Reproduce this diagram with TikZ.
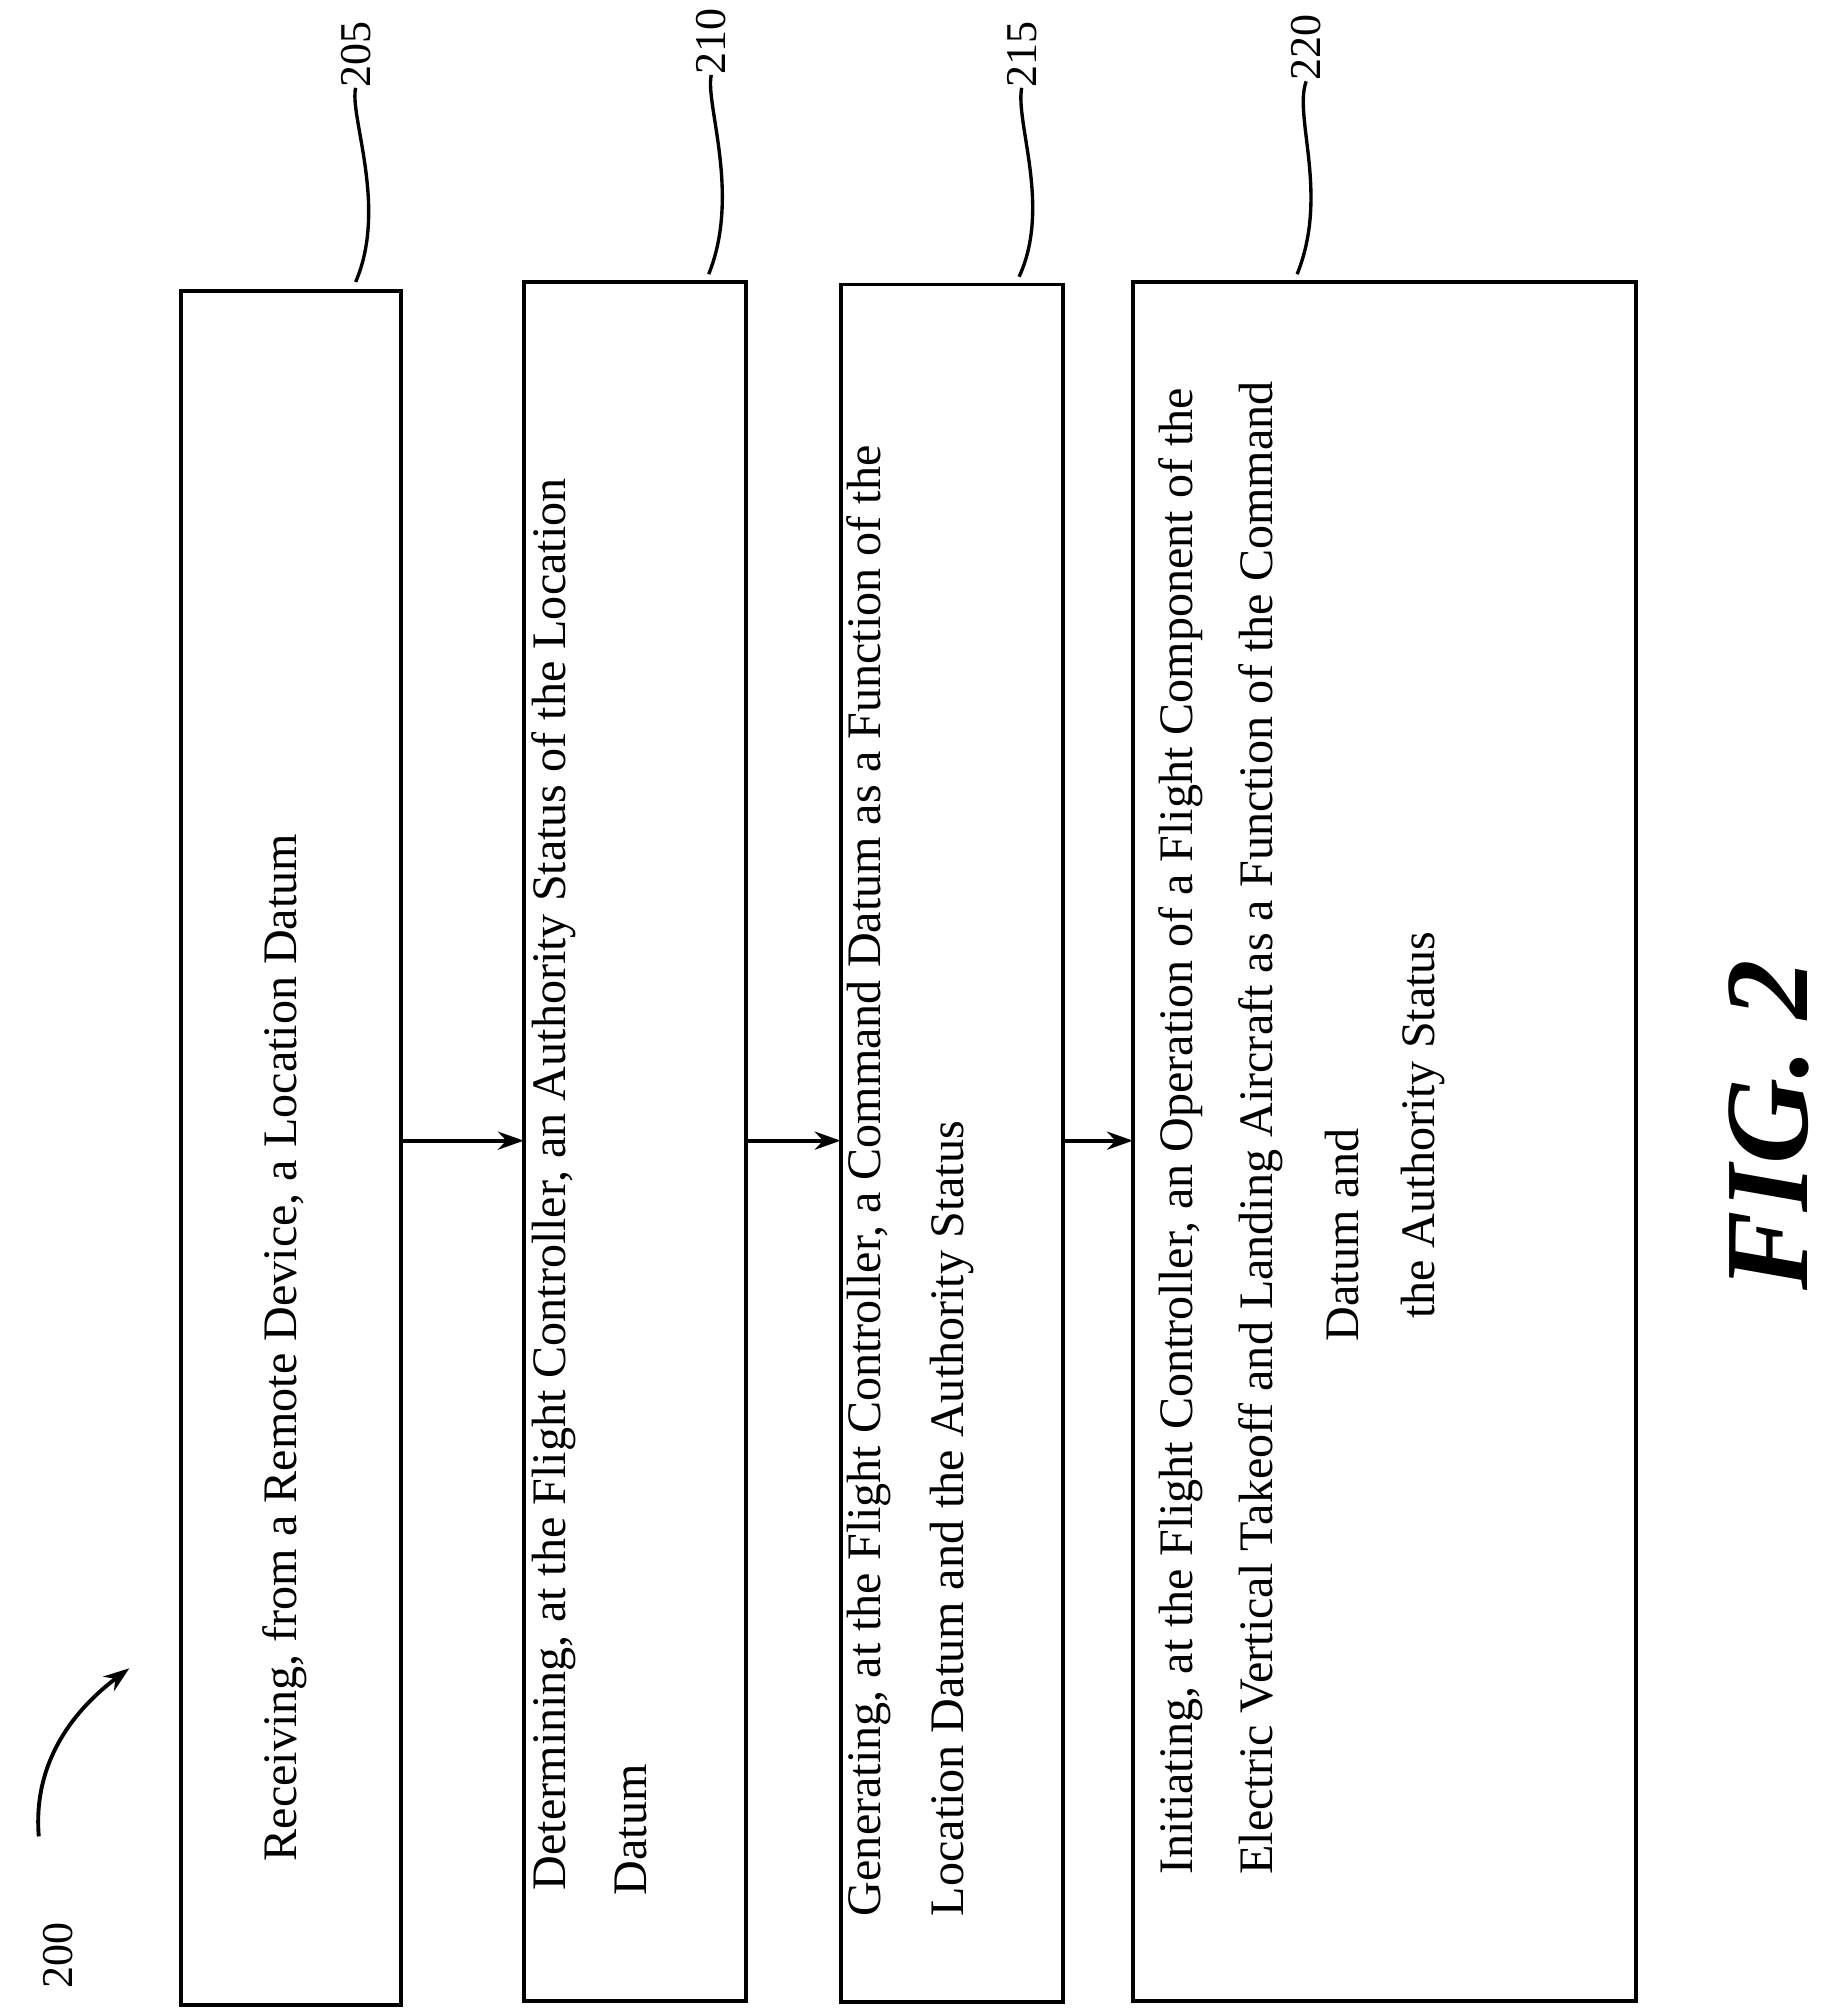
\documentclass[tikz,border=0pt]{standalone}
\usepackage{fontspec}
\setmainfont{Liberation Serif}
\usetikzlibrary{arrows.meta}
\begin{document}
\begin{tikzpicture}[x=0.5pt,y=-0.5pt,
 box/.style={draw,line width=1.5pt},
 t/.style={rotate=90,anchor=west,inner sep=0pt,font=\fontsize{18.6}{20}\selectfont},
 tc/.style={rotate=90,anchor=center,inner sep=0pt,font=\fontsize{18.6}{20}\selectfont},
 lbl/.style={rotate=90,inner sep=0pt,font=\fontsize{17}{19}\selectfont},
 arr/.style={-{Stealth[length=10pt,width=7pt]},line width=1.5pt}]
\useasboundingbox (0,0) rectangle (1414,1555);
\draw[box] (140,225) rectangle (310,1550);
\draw[box] (405,218) rectangle (577,1547);
\draw[box] (650,220) rectangle (822,1548);
\draw[box] (876,218) rectangle (1265,1547);
\coordinate (b1r) at (310,882); \coordinate (b2l) at (405,882);
\coordinate (b2r) at (577,882); \coordinate (b3l) at (650,882);
\coordinate (b3r) at (822,882); \coordinate (b4l) at (876,882);
\draw[arr] (b1r) -- (b2l);
\draw[arr] (b2r) -- (b3l);
\draw[arr] (b3r) -- (b4l);
\node[tc] (t1) at (220,1042) {Receiving, from a Remote Device, a Location Datum};
\node[t] (t2a) at (428,1462) {Determining, at the Flight Controller, an Authority Status of the Location};
\node[tc] (t2b) at (488,1415) {Datum};
\node[t] (t3a) at (672,1482) {Generating, at the Flight Controller, a Command Datum as a Function of the};
\node[t] (t3b) at (736,1482) {Location Datum and the Authority Status};
\node[t] (t4a) at (913,1450) {Initiating, at the Flight Controller, an Operation of a Flight Component of the};
\node[t] (t4b) at (975,1450) {Electric Vertical Takeoff and Landing Aircraft as a Function of the Command};
\node[tc] (t4c) at (1038,955) {Datum and};
\node[tc] (t4d) at (1100,870) {the Authority Status};
\node[lbl] (l205) at (275,42) {205};
\node[lbl] (l210) at (550,32) {210};
\node[lbl] (l215) at (790,42) {215};
\node[lbl] (l220) at (1010,37) {220};
\node[lbl] (l200) at (45,1512) {200};
\draw[line width=1.3pt] (275,218) .. controls (300,160) and (270,90) .. (l205.west);
\draw[line width=1.3pt] (548,212) .. controls (573,150) and (545,80) .. (l210.west);
\draw[line width=1.3pt] (788,214) .. controls (813,160) and (785,95) .. (l215.west);
\draw[line width=1.3pt] (1003,212) .. controls (1028,150) and (1000,90) .. (l220.west);
\draw[arr] (30,1420) .. controls (25,1360) and (60,1320) .. (100,1290);
\node[rotate=90,font=\fontsize{46}{48}\selectfont\bfseries\itshape] (fig) at (1368,870) {FIG. 2};
\end{tikzpicture}
\end{document}
